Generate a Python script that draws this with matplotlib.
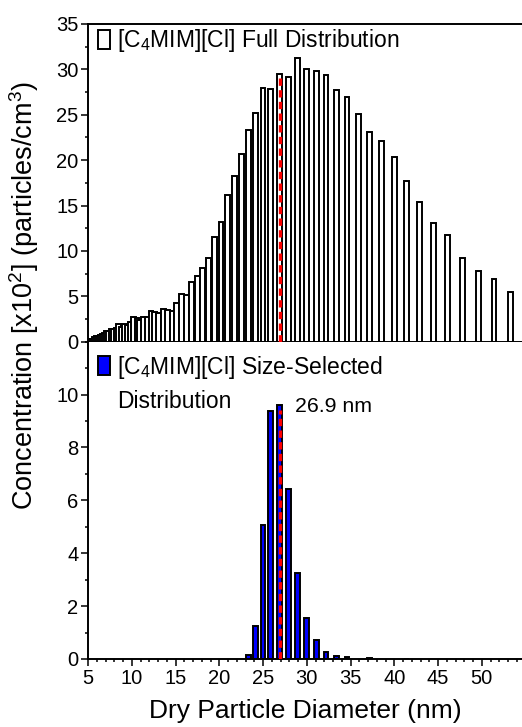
import matplotlib
matplotlib.use("Agg")
import matplotlib.pyplot as plt
from matplotlib.patches import Rectangle
from matplotlib.ticker import MultipleLocator

plt.rcParams['font.family'] = ['Liberation Sans', 'DejaVu Sans']
plt.rcParams['mathtext.fontset'] = 'custom'
plt.rcParams['mathtext.rm'] = 'Liberation Sans'
plt.rcParams['mathtext.it'] = 'Liberation Sans:italic'

# SMPS channel midpoint diameters (nm)
diameters = [5.14, 5.33, 5.52, 5.73, 5.94, 6.15, 6.38, 6.61, 6.85, 7.10,
             7.37, 7.64, 7.91, 8.20, 8.51, 8.82, 9.14, 9.47, 9.82, 10.2,
             10.6, 10.9, 11.3, 11.8, 12.2, 12.6, 13.1, 13.6, 14.1, 14.6,
             15.1, 15.7, 16.3, 16.8, 17.5, 18.1, 18.8, 19.5, 20.2, 20.9,
             21.7, 22.5, 23.3, 24.1, 25.0, 25.9, 26.9, 27.9, 28.9, 30.0,
             31.1, 32.2, 33.4, 34.6, 35.9, 37.2, 38.5, 40.0, 41.4, 42.9,
             44.5, 46.1, 47.8, 49.6, 51.4, 53.3]

# Full distribution concentration (x10^2 particles/cm^3)
full_conc = [0.35, 0.30, 0.35, 0.50, 0.60, 0.65, 0.70, 0.90, 1.00, 1.15,
             1.20, 1.35, 1.40, 1.50, 2.00, 1.60, 2.00, 1.80, 2.20, 2.70,
             2.60, 2.40, 2.70, 2.70, 3.40, 3.30, 3.20, 3.57, 3.50, 3.40,
             4.30, 5.20, 5.10, 6.60, 7.20, 8.10, 9.20, 11.5, 13.2, 16.2,
             18.3, 20.7, 23.3, 25.2, 27.9, 27.8, 29.5, 29.15, 31.2, 30.0,
             29.8, 29.4, 27.75, 27.0, 25.1, 23.1, 22.1, 20.4, 17.75, 15.4,
             13.05, 11.7, 9.26, 7.8, 6.9, 5.48]

# Size-selected distribution (x10^2 particles/cm^3)
sel_diam = [23.3, 24.1, 25.0, 25.9, 26.9, 27.9, 28.9, 30.0, 31.1, 32.2,
            33.4, 34.6, 37.2, 41.4]
sel_conc = [0.15, 1.25, 5.05, 9.37, 9.6, 6.44, 3.25, 1.54, 0.72, 0.28,
            0.11, 0.06, 0.02, 0.01]

mode_diam = 26.9
mode_label = "26.9 nm"
full_label = r"[C$_4$MIM][Cl] Full Distribution"
sel_label_1 = r"[C$_4$MIM][Cl] Size-Selected"
sel_label_2 = "Distribution"
xlabel = "Dry Particle Diameter (nm)"
ylabel = r"Concentration [x10$^2$] (particles/cm$^3$)"

W, H = 522, 727
fig = plt.figure(figsize=(W / 100, H / 100), dpi=100)
left = 88 / W
ax1 = fig.add_axes([left, 1 - 341.7 / H, 1 - left, (341.7 - 24) / H])
ax2 = fig.add_axes([left, 1 - 659 / H, 1 - left, (659 - 341.7) / H])

bw = 0.55
lw = 1.4
ax1.bar(diameters, full_conc, width=bw, color='white', edgecolor='black',
        linewidth=lw, zorder=2)
ax2.bar(sel_diam, sel_conc, width=bw, color='#0000FF', edgecolor='black',
        linewidth=lw, zorder=2)

top_full = full_conc[diameters.index(mode_diam)]
top_sel = sel_conc[sel_diam.index(mode_diam)]
ax1.vlines(mode_diam, 0, top_full - 0.4, colors='red', linewidth=2.4,
           linestyles=(0, (2.2, 1.3)), zorder=3)
ax2.vlines(mode_diam, 0, top_sel - 0.2, colors='red', linewidth=2.4,
           linestyles=(0, (2.2, 1.3)), zorder=3)

for ax in (ax1, ax2):
    ax.set_xlim(5, 54.6)
    ax.xaxis.set_major_locator(MultipleLocator(5))
    ax.xaxis.set_minor_locator(MultipleLocator(1))
    ax.spines['right'].set_visible(False)
    for s in ax.spines.values():
        s.set_linewidth(1.4)
    ax.tick_params(which='major', direction='out', length=5, width=1.1,
                   labelsize=14.5, pad=2)
    ax.tick_params(which='minor', direction='out', length=2.5, width=1.1)

ax1.set_ylim(0, 35)
ax1.yaxis.set_major_locator(MultipleLocator(5))
ax1.yaxis.set_minor_locator(MultipleLocator(2.5))
ax1.tick_params(axis='x', labelbottom=False)

ax2.set_ylim(0, 12)
ax2.set_yticks([0, 2, 4, 6, 8, 10])
ax2.yaxis.set_minor_locator(MultipleLocator(1))
ax2.spines['top'].set_visible(False)
ax2.set_xlabel(xlabel, fontsize=19, labelpad=8)

# legend boxes and labels
fig.patches.append(Rectangle((98 / W, 1 - 49 / H), 12 / W, 19 / H,
                             transform=fig.transFigure, facecolor='white',
                             edgecolor='black', linewidth=1.4))
fig.text(117 / W, 1 - 47.5 / H, full_label, fontsize=16.5, ha='left',
         va='baseline')
fig.patches.append(Rectangle((98 / W, 1 - 375 / H), 12 / W, 19 / H,
                             transform=fig.transFigure, facecolor='#0000FF',
                             edgecolor='black', linewidth=1.4))
fig.text(117 / W, 1 - 374 / H, sel_label_1, fontsize=16.5, ha='left',
         va='baseline')
fig.text(117 / W, 1 - 408 / H, sel_label_2, fontsize=16.5, ha='left',
         va='baseline')
ax2.text(28.7, 9.55, mode_label, fontsize=15.3, ha='left', va='center')

fig.text(24 / W, 1 - 295 / H, ylabel, rotation=90, fontsize=19.5,
         ha='center', va='center')

fig.savefig("out.png", dpi=100)
